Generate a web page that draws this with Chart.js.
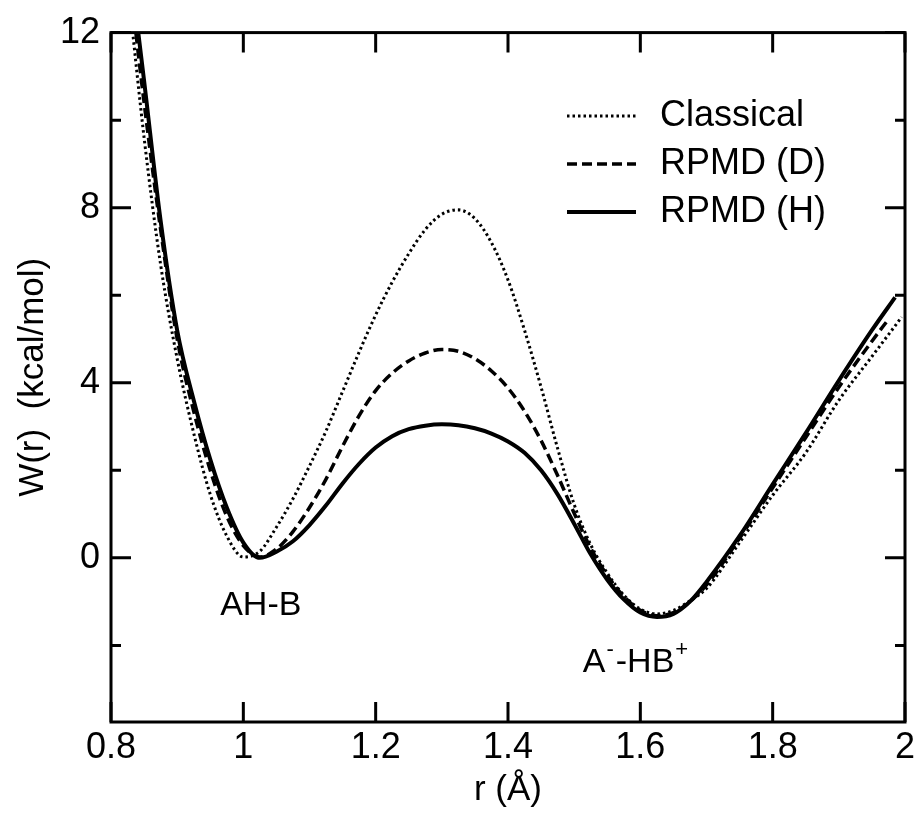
<!DOCTYPE html>
<html>
<head>
<meta charset="utf-8">
<title>W(r)</title>
<script src="https://cdn.jsdelivr.net/npm/chart.js@4.4.1/dist/chart.umd.min.js"></script>
<style>
  html, body { margin: 0; padding: 0; background: #fff; }
  #wrap { width: 920px; height: 815px; }
</style>
</head>
<body>
<div id="wrap"><canvas id="myChart" width="920" height="815"></canvas></div>
<script>
// data
const rGrid = [0.83, 0.85, 0.875, 0.9, 0.925, 0.95, 0.975, 1.0, 1.025, 1.05, 1.075, 1.1, 1.125, 1.15, 1.175,
               1.2, 1.225, 1.25, 1.275, 1.3, 1.325, 1.35, 1.375, 1.4, 1.425, 1.45, 1.475, 1.5, 1.525, 1.55,
               1.575, 1.6, 1.625, 1.65, 1.675, 1.7, 1.75, 1.8, 1.85, 1.9, 1.95];
const wClassical = [12.4, 9.6, 6.7, 4.55, 2.85, 1.45, 0.5, 0.02, 0.15, 0.7, 1.35, 2.1, 2.9, 3.8, 4.7,
                    5.55, 6.3, 6.95, 7.5, 7.85, 7.95, 7.75, 7.2, 6.35, 5.2, 3.9, 2.5, 1.22, 0.3, -0.35,
                    -0.85, -1.17, -1.28, -1.2, -0.98, -0.7, 0.35, 1.43, 2.4, 3.6, 4.6];
const wRpmdD = [13.0, 10.4, 7.5, 5.0, 3.35, 2.0, 0.95, 0.28, 0.02, 0.2, 0.6, 1.15, 1.8, 2.55, 3.25,
                3.82, 4.22, 4.5, 4.68, 4.76, 4.72, 4.55, 4.27, 3.88, 3.35, 2.68, 1.88, 1.02, 0.22, -0.4,
                -0.88, -1.2, -1.32, -1.25, -1.0, -0.62, 0.45, 1.6, 2.75, 3.9, 4.95];
const wRpmdH = [13.4, 10.9, 7.7, 5.2, 3.6, 2.25, 1.15, 0.35, 0.0, 0.14, 0.38, 0.75, 1.2, 1.7, 2.15,
                2.52, 2.78, 2.94, 3.02, 3.05, 3.03, 2.96, 2.84, 2.66, 2.4, 2.0, 1.45, 0.78, 0.08, -0.5,
                -0.95, -1.25, -1.35, -1.28, -1.0, -0.55, 0.5, 1.68, 2.85, 4.05, 5.2];
// last point of each curve (they stop short of r = 2)
const rEnd = [1.995, 1.975, 1.985];
const wEnd = [5.5, 5.45, 5.95];

const seriesNames = ['Classical', 'RPMD (D)', 'RPMD (H)'];
const xTicks = [0.8, 1.0, 1.2, 1.4, 1.6, 1.8, 2.0];
const yTicks = [0, 4, 8, 12];
const yMinorTicks = [-2, 2, 6, 10];

const FONT = "'Liberation Sans', Arial, Helvetica, sans-serif";

function toPoints(ws, i) {
    const pts = rGrid.map((r, k) => ({ x: r, y: ws[k] }));
    pts.push({ x: rEnd[i], y: wEnd[i] });
    return pts;
}

const styles = [
    { borderWidth: 3, borderDash: [2.5, 3] },
    { borderWidth: 3.5, borderDash: [10, 5] },
    { borderWidth: 4, borderDash: [] }
];

// frame + inward ticks on all four sides
const frameTicks = {
    id: 'frameTicks',
    afterDatasetsDraw(chart) {
        const { ctx, chartArea: a, scales: { x, y } } = chart;
        ctx.save();
        ctx.strokeStyle = '#000';
        ctx.lineWidth = 3;
        ctx.strokeRect(a.left, a.top, a.right - a.left, a.bottom - a.top);
        ctx.beginPath();
        xTicks.forEach(v => {
            const px = x.getPixelForValue(v);
            ctx.moveTo(px, a.bottom); ctx.lineTo(px, a.bottom - 20);
            ctx.moveTo(px, a.top); ctx.lineTo(px, a.top + 20);
        });
        yTicks.forEach(v => {
            const py = y.getPixelForValue(v);
            ctx.moveTo(a.left, py); ctx.lineTo(a.left + 20, py);
            ctx.moveTo(a.right, py); ctx.lineTo(a.right - 20, py);
        });
        yMinorTicks.forEach(v => {
            const py = y.getPixelForValue(v);
            ctx.moveTo(a.left, py); ctx.lineTo(a.left + 10, py);
            ctx.moveTo(a.right, py); ctx.lineTo(a.right - 10, py);
        });
        ctx.stroke();
        ctx.restore();
    }
};

// legend inside the plot + the two state labels
const labels = {
    id: 'labels',
    afterDraw(chart) {
        const { ctx, scales: { x, y } } = chart;
        ctx.save();
        ctx.fillStyle = '#000';
        ctx.strokeStyle = '#000';
        const rows = [116, 164, 212];
        seriesNames.forEach((name, i) => {
            ctx.lineWidth = styles[i].borderWidth;
            ctx.setLineDash(styles[i].borderDash);
            ctx.beginPath();
            ctx.moveTo(567, rows[i]);
            ctx.lineTo(636, rows[i]);
            ctx.stroke();
            ctx.setLineDash([]);
            ctx.font = '36px ' + FONT;
            ctx.textBaseline = 'middle';
            ctx.fillText(name, 660, rows[i]);
        });

        ctx.textBaseline = 'alphabetic';
        ctx.font = '34px ' + FONT;
        ctx.fillText('AH-B', x.getPixelForValue(0.965), y.getPixelForValue(-1.31));

        // A^- -HB^+
        let px = x.getPixelForValue(1.513);
        const py = y.getPixelForValue(-2.6);
        ctx.fillText('A', px, py);
        px += ctx.measureText('A').width + 1;
        ctx.font = '22px ' + FONT;
        ctx.fillText('-', px, py - 16);
        px += ctx.measureText('-').width + 2;
        ctx.font = '34px ' + FONT;
        ctx.fillText('-HB', px, py);
        px += ctx.measureText('-HB').width + 1;
        ctx.font = '22px ' + FONT;
        ctx.fillText('+', px, py - 16);
        ctx.restore();
    }
};

Chart.defaults.font.family = FONT;
Chart.defaults.color = '#000';

new Chart(document.getElementById('myChart').getContext('2d'), {
    type: 'line',
    data: {
        datasets: seriesNames.map((name, i) => ({
            label: name,
            data: toPoints([wClassical, wRpmdD, wRpmdH][i], i),
            borderColor: '#000',
            borderWidth: styles[i].borderWidth,
            borderDash: styles[i].borderDash,
            pointRadius: 0,
            fill: false,
            cubicInterpolationMode: 'monotone',
            clip: 0
        }))
    },
    options: {
        responsive: false,
        animation: false,
        devicePixelRatio: 1,
        layout: { padding: { top: 25, right: 15, bottom: 0, left: 0 } },
        plugins: { legend: { display: false }, tooltip: { enabled: false } },
        scales: {
            x: {
                type: 'linear',
                min: 0.8,
                max: 2.0,
                afterBuildTicks: s => { s.ticks = xTicks.map(v => ({ value: v })); },
                afterFit: s => { s.height = 93; },
                grid: { display: false, drawTicks: false },
                border: { display: false },
                ticks: {
                    font: { size: 36 },
                    padding: 4,
                    maxRotation: 0,
                    callback: v => String(+v.toFixed(1))
                },
                title: { display: true, text: 'r (Å)', font: { size: 35 }, padding: { top: 0, bottom: 4 } }
            },
            y: {
                type: 'linear',
                min: -3.75,
                max: 12,
                afterBuildTicks: s => { s.ticks = yTicks.map(v => ({ value: v })); },
                afterFit: s => { s.width = 111; },
                grid: { display: false, drawTicks: false },
                border: { display: false },
                ticks: { font: { size: 36 }, padding: 11 },
                title: { display: true, text: 'W(r)  (kcal/mol)', font: { size: 35 }, padding: { top: 12, bottom: 0 } }
            }
        }
    },
    plugins: [frameTicks, labels]
});
</script>
</body>
</html>
